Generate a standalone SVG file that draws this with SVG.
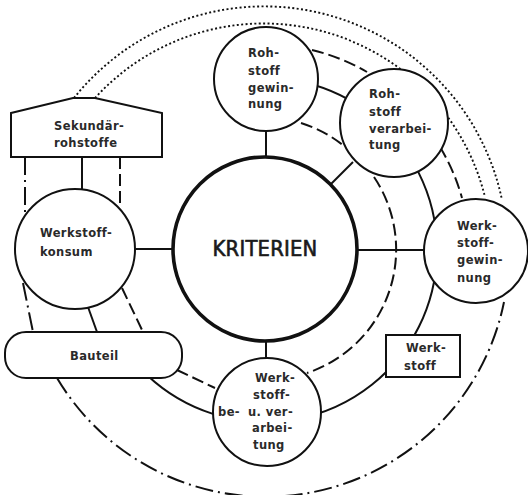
<svg xmlns="http://www.w3.org/2000/svg" width="528" height="495" viewBox="0 0 528 495">
<style>
.c{fill:none;stroke:#111;stroke-width:2}
.dash{stroke-dasharray:12 5}
.dd{stroke-dasharray:18 5 2 5}
.dot{stroke-width:1.9;stroke-dasharray:2 2.4}
.n{fill:#fff;stroke:#111;stroke-width:2}
.k{fill:#fff;stroke:#111;stroke-width:3.6}
text{font-family:"DejaVu Sans","Liberation Sans",sans-serif;font-size:11.5px;font-weight:bold;letter-spacing:0.4px;fill:#2a2a2a}
.big{font-family:"DejaVu Sans Condensed","DejaVu Sans",sans-serif;font-size:21px;font-weight:normal;letter-spacing:0.2px;fill:#1a1a1a;stroke:#1a1a1a;stroke-width:0.6}
</style>
<rect width="528" height="495" fill="#fff"/>
<g id="connectors">
<path class="c dot" d="M74,98 A243,243 0 0 1 502,200"/>
<path class="c dot" d="M95,98 A228,228 0 0 1 485,197"/>
<path class="c dd" d="M57,378 A243,243 0 0 0 504,302"/>
<path class="c dd" d="M25,157 L25,215"/>
<path class="c dd" d="M23,283 L33,332"/>
<path class="c dash" d="M312,50 A205,205 0 0 1 367,72"/>
<path class="c dash" d="M440,147 A204,204 0 0 1 462,198"/>
<path class="c dash" d="M301,123 A130,130 0 0 1 344,146"/>
<path class="c dash" d="M374,177 A130,130 0 0 1 307,373"/>
<path class="c dash" d="M120,157 L120,208"/>
<path class="c dash" d="M122,288 L143,332"/>
<path class="c dash" d="M177,370 L215,388"/>
<path class="c" d="M294.9,80.6 A172,172 0 1 1 147.7,375.8"/>
<path class="c" d="M82,157 L82,190"/>
<path class="c" d="M134,249 L174,249"/>
<path class="c" d="M88,307 L97,332"/>
<path class="c" d="M266,128 L266,158"/>
<path class="c" d="M356,250 L425,250"/>
<path class="c" d="M266,340 L266,358"/>
<path class="c" d="M353,162 L331,184"/>
</g>
<g id="kriterien">
<circle class="k" cx="265" cy="249" r="92"/>
<text class="big" x="265" y="256" text-anchor="middle" textLength="105" lengthAdjust="spacingAndGlyphs">KRITERIEN</text>
</g>
<g id="rohstoffgewinnung">
<circle class="n" cx="266" cy="79" r="52"/>
<text x="248" y="57">Roh-</text>
<text x="248" y="75">stoff</text>
<text x="248" y="92">gewin-</text>
<text x="248" y="108">nung</text>
</g>
<g id="rohstoffverarbeitung">
<circle class="n" cx="394" cy="123" r="54"/>
<text x="369" y="98">Roh-</text>
<text x="369" y="116">stoff</text>
<text x="369" y="133">verarbei-</text>
<text x="369" y="149">tung</text>
</g>
<g id="werkstoffgewinnung">
<circle class="n" cx="476" cy="251" r="52"/>
<text x="457" y="230">Werk-</text>
<text x="457" y="247">stoff-</text>
<text x="457" y="264">gewin-</text>
<text x="457" y="282">nung</text>
</g>
<g id="werkstoff">
<rect class="n" x="386" y="335" width="74" height="42"/>
<text x="406" y="352">Werk-</text>
<text x="404" y="370">stoff</text>
</g>
<g id="werkstoffbearbeitung">
<circle class="n" cx="267" cy="412" r="54"/>
<text x="255" y="382">Werk-</text>
<text x="253" y="399">stoff-</text>
<text x="218" y="416">be-</text>
<text x="248" y="416">u. ver-</text>
<text x="252" y="432">arbei-</text>
<text x="253" y="449">tung</text>
</g>
<g id="bauteil">
<rect class="n" x="5" y="332" width="177" height="46" rx="21"/>
<text x="70" y="360">Bauteil</text>
</g>
<g id="werkstoffkonsum">
<circle class="n" cx="75" cy="249" r="60"/>
<text x="40" y="237">Werkstoff-</text>
<text x="40" y="256">konsum</text>
</g>
<g id="sekundaerrohstoffe">
<path class="n" d="M11,113 L73,98 L95,98 L162,113 L162,157 L11,157 Z"/>
<text x="54" y="130">Sekundär-</text>
<text x="54" y="147">rohstoffe</text>
</g>
</svg>
